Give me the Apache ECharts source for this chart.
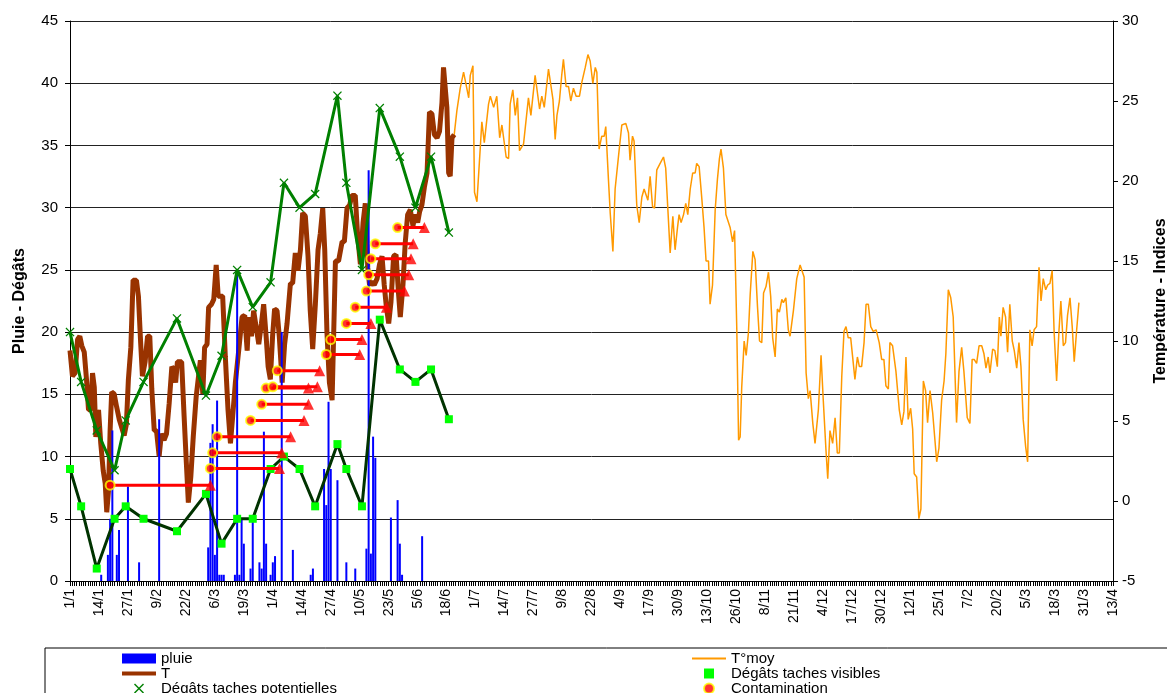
<!DOCTYPE html>
<html><head><meta charset="utf-8">
<script src="https://cdn.jsdelivr.net/npm/echarts@6/dist/echarts.min.js"></script>
<style>html,body{margin:0;padding:0;background:#fff}#c{width:1167px;height:693px}</style>
</head><body><div id="c"></div>
<script>
// ---- tick labels (one every 13 days, day 0 = 1/1) ----
const dateLabels = ['1/1','14/1','27/1','9/2','22/2','6/3','19/3','1/4','14/4','27/4','10/5','23/5','5/6','18/6','1/7','14/7','27/7','9/8','22/8','4/9','17/9','30/9','13/10','26/10','8/11','21/11','4/12','17/12','30/12','12/1','25/1','7/2','20/2','5/3','18/3','31/3','13/4'];

// ---- pluie (mm, left axis) ----
const rainDays = [14,17,18,19,21,22,26,31,40,62,63,64,65,66,67,68,69,74,75,76,77,78,81,82,85,86,87,88,90,91,92,95,100,108,109,114,115,116,117,120,124,128,133,134,135,136,137,144,147,148,149,158];
const rainValues = [0.5,2.1,5.0,12.1,2.1,4.1,7.6,1.5,13.0,2.7,11.1,12.6,2.1,14.5,0.5,0.5,0.5,0.5,25.0,0.5,5.0,3.0,1.0,5.0,1.5,1.0,12.0,3.0,0.5,1.5,2.0,20.0,2.5,0.5,1.0,9.0,6.1,14.4,9.0,8.1,1.5,1.0,2.6,33.0,2.2,11.6,9.9,5.1,6.5,3.0,0.5,3.6];

// ---- T (°C, right axis) ----
const tDays = [0,1.1,2.3,3.4,4.4,5.3,6.4,7.4,8.3,9.3,10.1,10.9,11.6,12.8,13.8,14.9,15.8,16.5,17.3,18.0,18.7,19.8,20.9,22.1,23.2,24.3,25.3,26.2,27.3,28.3,29.8,30.7,31.7,32.5,33.7,34.8,35.8,36.7,37.8,38.8,40.0,41.0,42.2,43.3,44.5,45.7,46.7,47.4,48.2,49.2,50.1,51.2,52.2,53.1,54.2,55.3,56.6,58.5,59.6,60.4,61.5,62.2,63.5,64.5,65.6,66.5,67.5,68.5,69.7,70.9,72.0,73.0,74.2,75.7,77.2,78.4,79.5,80.2,81.4,82.4,83.5,84.7,85.9,86.9,88.0,88.9,89.9,90.9,91.8,92.9,93.9,95.2,96.3,97.4,98.9,99.9,101.1,102.3,103.4,104.4,105.6,106.8,107.8,108.9,110.1,111.3,112.3,113.4,114.3,115.3,116.4,117.6,119.1,120.5,122.1,123.1,124.3,125.5,126.5,128.0,129.1,130.3,131.5,132.5,133.6,134.4,135.5,136.5,137.8,138.9,140.0,141.0,141.9,143.0,144.0,145.2,146.3,147.4,148.2,149.4,150.4,151.5,152.7,153.9,154.9,156.0,156.9,157.9,159.0,160.2,161.3,162.4,163.5,164.7,165.8,166.9,167.6,168.4,169.1,169.9,170.6,171.4,172.4];
const tValues = [9.4,7.8,8.0,10.1,10.3,9.7,9.3,7.6,5.7,5.7,8.0,7.1,4.0,5.7,3.6,1.9,1.1,-0.7,0.7,4.4,6.8,6.7,5.9,5.1,4.6,4.1,4.8,7.6,9.6,13.8,13.8,12.8,9.9,7.8,8.7,10.3,10.3,7.0,4.4,4.4,2.8,4.2,3.8,4.2,6.1,8.4,8.2,7.4,8.7,8.7,8.7,5.3,2.4,-0.1,1.5,4.0,6.5,8.8,6.7,9.6,9.8,12.1,12.3,12.6,14.75,12.8,12.8,12.8,9.0,5.7,3.6,5.3,7.4,9.4,11.5,11.6,9.4,11.5,10.3,11.9,10.9,9.8,11.1,12.3,10.3,8.4,7.6,10.3,12.0,11.9,10.3,7.4,9.8,11.1,13.6,13.6,15.5,14.4,15.7,18.0,17.8,15.3,11.9,9.5,12.3,15.7,16.7,18.3,15.7,10.5,7.4,6.3,15.0,15.0,16.2,16.2,18.3,18.5,19.1,19.1,16.5,14.8,17.4,18.6,14.6,13.5,13.7,13.5,13.9,14.8,15.3,13.5,12.2,11.1,12.4,15.3,15.4,13.0,11.5,13.5,16.1,17.9,18.2,17.2,17.9,17.4,18.1,18.5,19.6,20.5,24.3,24.2,22.9,22.7,23.1,24.9,27.1,27.1,24.6,20.5,20.3,22.7,22.9];

// ---- T°moy after the end of T (°C, right axis); before that it follows T ----
const tmoyDays = [173.6,175.1,176.6,177.4,178.9,179.6,180.8,181.5,182.6,184.1,184.8,185.9,187.8,188.6,190.1,191.5,192.8,193.8,194.5,195.7,196.8,197.5,198.7,199.8,200.8,201.7,203.5,205.7,206.8,208.7,210.7,211.7,212.8,214.7,216.7,217.7,218.5,219.6,220.7,221.4,222.6,223.7,224.7,225.9,227.1,228.6,229.7,231.2,232.4,233.4,234.6,235.7,236.4,237.4,238.6,239.7,240.4,241.6,242.4,243.6,244.6,245.4,246.6,247.6,249.4,250.6,251.3,252.4,253.1,254.3,255.4,256.6,257.6,258.4,259.3,260.3,261.4,262.3,263.3,264.8,266.3,267.3,268.2,269.3,270.5,271.5,272.6,273.3,274.2,275.3,276.3,277.2,278.3,279.4,280.5,281.2,282.3,283.5,284.5,285.4,286.5,287.2,288.3,289.5,290.5,291.4,292.1,293.2,294.3,295.1,296.2,297.3,298.2,299.2,300.0,300.7,301.4,302.5,303.4,304.4,305.2,306.4,307.4,308.5,309.4,310.4,311.2,312.3,313.4,314.4,315.3,316.4,317.4,318.3,319.4,320.1,321.2,322.3,323.1,324.6,326.1,327.6,328.3,329.4,330.3,331.3,332.1,333.3,334.3,335.8,337.0,338.0,339.2,340.0,341.0,342.2,343.3,344.3,345.2,346.3,347.3,348.2,349.2,350.3,352.2,353.3,354.2,355.2,356.3,357.2,358.2,359.3,360.4,361.7,362.2,363.1,364.2,365.2,366.1,367.2,367.9,369.1,370.6,372.1,373.2,374.2,375.1,376.1,377.2,378.1,378.8,379.9,380.9,381.8,382.9,383.9,384.8,385.9,387.1,388.9,389.9,391.1,392.2,393.0,394.1,395.2,396.3,397.8,398.9,400.1,401.1,402.6,403.8,404.8,405.7,406.8,407.9,409.1,410.1,411.0,412.0,412.8,414.0,415.0,416.1,417.0,417.7,418.7,419.8,420.7,421.7,422.8,423.7,424.8,425.8,426.7,427.7,428.8,429.7,430.7,431.7,432.6,433.7,434.8,435.7,436.7,437.8,438.7,439.7,440.7,441.6,442.7,443.7,444.6,445.7,446.7,447.6,448.7,449.7,450.6,451.7,452.7];
const tmoyValues = [24.4,25.8,26.8,26.7,25.2,26.6,27.2,19.3,18.7,22.1,23.7,22.4,24.8,25.3,24.6,25.3,22.7,23.5,23.5,21.5,21.4,24.8,25.7,24.1,25.2,21.9,22.3,25.2,24.1,26.6,24.5,25.3,24.6,27.0,25.1,22.6,24.1,25.0,26.7,27.6,25.9,25.9,25.0,25.8,25.3,25.3,26.2,27.1,27.9,27.5,26.1,27.1,26.8,22.0,22.8,22.8,23.4,20.1,18.0,15.6,19.5,19.5,22.2,23.5,23.6,23.0,21.3,22.8,22.5,18.5,17.4,19.0,19.5,19.5,18.8,20.3,18.4,18.3,20.7,21.1,21.5,20.8,18.4,15.5,17.8,15.7,17.1,17.9,17.4,17.9,18.6,17.9,19.5,20.5,20.5,21.1,20.9,18.9,17.1,15.0,15.0,12.3,13.5,18.2,20.1,21.4,22.0,20.8,17.9,17.9,17.1,16.2,16.9,10.7,3.8,4.0,7.1,10.0,9.1,10.5,12.9,15.6,15.1,12.1,10.0,9.9,13.0,13.4,14.3,12.8,10.2,9.0,12.0,11.8,12.6,12.4,12.7,10.7,10.3,11.9,13.9,14.75,14.8,14.0,8.0,6.4,6.9,4.85,3.6,5.7,9.1,6.3,3.2,1.4,4.4,3.6,5.2,3.0,3.0,7.8,10.6,10.9,10.2,10.2,7.6,9.0,8.4,8.4,9.9,12.3,12.3,10.9,10.6,10.7,10.8,9.9,8.85,8.85,7.2,7.0,9.9,9.7,8.1,5.7,4.75,5.6,9.0,5.1,5.8,4.5,1.7,1.5,-1.1,-0.5,7.5,6.9,4.9,6.9,5.5,2.45,3.3,6.3,7.5,9.2,13.2,12.7,11.5,4.9,8.1,9.6,8.1,5.2,4.85,8.85,8.85,8.6,9.7,9.7,9.2,8.3,9.0,8.0,9.5,9.4,8.4,11.5,10.3,12.1,11.5,9.3,12.3,10.0,9.4,8.3,9.9,8.4,5.1,3.4,2.45,10.7,9.7,10.7,10.9,14.6,12.5,13.9,13.2,13.5,13.6,14.4,10.5,7.5,10.5,12.5,9.7,9.9,11.6,12.7,10.9,8.7,10.7,12.4];

// ---- Dégâts (left axis), observation dates ----
const obsDays = [0,5,12,20,25,33,48,61,68,75,82,90,96,103,110,120,124,131,139,148,155,162,170];
const potValues = [20,16,12.1,8.9,12.9,16,21.1,14.9,18.1,25,22,24,32,30,31.1,39,32,25,38,34.1,30,34.1,28];
const visValues = [9,6,1,5,6,5,4,7,3,5,5,9,10,9,6,11,9,6,21,17,16,17,13];

// ---- Contamination periods (start day, end day, row level on left axis) ----
const contStart = [18,63,64,66,81,86,88,91,93,115,117,124,128,133,134,135,137,147];
const contEnd   = [63,94,95,99,105,107,107,111,112,130,131,135,142,150,152,153,154,159];
const contLevel = [7.7,9.05,10.3,11.6,12.9,14.2,15.5,15.6,16.9,18.2,19.4,20.7,22.0,23.3,24.6,25.9,27.1,28.4];

const FONT = '"Liberation Sans", Arial, sans-serif';
const pair = (xs, ys) => xs.map((x, i) => [x, ys[i]]);
const X_PATH = 'path://M0,1L1,0L5,4L9,0L10,1L6,5L10,9L9,10L5,6L1,10L0,9L4,5Z';
const SQ_PATH = 'path://M0,0L10,0L10,10L0,10Z';
const CIRC_PATH = 'path://M5,0A5,5,0,1,1,5,10A5,5,0,1,1,5,0Z';
const THICK_LINE = 'path://M0,0L34,0L34,4L0,4Z';
const THIN_LINE = 'path://M0,0L34,0L34,2L0,2Z';

const segData = [];
contStart.forEach((s, i) => { segData.push([s, contLevel[i]], [contEnd[i], contLevel[i]], [contEnd[i], '-']); });

const legendCommon = {
  top: 651, orient: 'vertical', itemWidth: 34, itemHeight: 10, itemGap: 0, padding: 0, height: 60,
  textStyle: { fontSize: 15, lineHeight: 13.5, color: '#000', fontFamily: FONT }
};

const chart = echarts.init(document.getElementById('c'));
chart.setOption({
  animation: false,
  textStyle: { fontFamily: FONT },
  grid: { left: 70, right: 54, top: 21, bottom: 112, outerBoundsMode: 'none', containLabel: false },
  graphic: [{ type: 'rect', shape: { x: 45, y: 648, width: 1140, height: 60 }, style: { fill: 'none', stroke: '#000', lineWidth: 1 }, z: 0 }],
  legend: [
    Object.assign({ left: 122, data: [{ name: 'pluie', icon: 'rect' }, { name: 'T', icon: THICK_LINE }, { name: 'Dégâts taches potentielles', icon: X_PATH }] }, legendCommon),
    Object.assign({ left: 692, data: [{ name: 'T°moy', icon: THIN_LINE }, { name: 'Dégâts taches visibles', icon: SQ_PATH }, { name: 'Contamination', icon: CIRC_PATH }] }, legendCommon)
  ],
  xAxis: {
    type: 'value', min: 0, max: 468, interval: 13,
    axisLine: { onZero: false, lineStyle: { color: '#000' } },
    axisTick: { show: true, length: 5, lineStyle: { color: '#000' } },
    minorTick: { show: true, splitNumber: 13, length: 5, lineStyle: { color: '#000' } },
    splitLine: { show: false }, minorSplitLine: { show: false },
    axisLabel: { rotate: 90, margin: 8, fontSize: 14, color: '#000', fontFamily: FONT,
      formatter: v => dateLabels[Math.round(v / 13)] || '' }
  },
  yAxis: [
    { type: 'value', min: 0, max: 45, interval: 5, position: 'left',
      name: 'Pluie - Dégâts', nameLocation: 'middle', nameGap: 42, nameRotate: 90,
      nameTextStyle: { fontWeight: 'bold', fontSize: 16, color: '#000', fontFamily: FONT },
      axisLine: { show: true, lineStyle: { color: '#000' } },
      axisTick: { show: true, length: 5, lineStyle: { color: '#000' } },
      axisLabel: { fontSize: 15, color: '#000', margin: 12, fontFamily: FONT },
      splitLine: { show: true, lineStyle: { color: '#222', width: 1 } } },
    { type: 'value', min: -5, max: 30, interval: 5, position: 'right',
      name: 'Température - Indices', nameLocation: 'middle', nameGap: 40, nameRotate: 90,
      nameTextStyle: { fontWeight: 'bold', fontSize: 16, color: '#000', fontFamily: FONT },
      axisLine: { show: true, lineStyle: { color: '#000' } },
      axisTick: { show: true, length: 5, lineStyle: { color: '#000' } },
      axisLabel: { fontSize: 15, color: '#000', margin: 9, fontFamily: FONT },
      splitLine: { show: false } }
  ],
  series: [
    { name: 'T°moy', type: 'line', yAxisIndex: 1, z: 2, symbol: 'none',
      data: pair(tDays, tValues).concat(pair(tmoyDays, tmoyValues)),
      lineStyle: { color: '#FF9900', width: 1.5 }, itemStyle: { color: '#FF9900' } },
    { name: 'T', type: 'line', yAxisIndex: 1, z: 3, symbol: 'none',
      data: pair(tDays, tValues),
      lineStyle: { color: '#993300', width: 5 }, itemStyle: { color: '#993300' } },
    { name: 'pluie', type: 'bar', yAxisIndex: 0, z: 4, barWidth: 2,
      data: pair(rainDays, rainValues), itemStyle: { color: '#0000FF' } },
    { name: 'Dégâts taches visibles', type: 'line', yAxisIndex: 0, z: 5,
      data: pair(obsDays, visValues), symbol: SQ_PATH, symbolSize: 8, showSymbol: true,
      lineStyle: { color: '#003300', width: 3 }, itemStyle: { color: '#00FF00' } },
    { name: 'Dégâts taches potentielles', type: 'line', yAxisIndex: 0, z: 6,
      data: pair(obsDays, potValues), symbol: X_PATH, symbolSize: 9, showSymbol: true,
      lineStyle: { color: '#008000', width: 3 }, itemStyle: { color: '#008000' } },
    { name: 'contSeg', type: 'line', yAxisIndex: 0, z: 7, symbol: 'none', connectNulls: false,
      data: segData, lineStyle: { color: '#FF0000', width: 3 }, itemStyle: { color: '#FF0000' } },
    { name: 'contFin', type: 'scatter', yAxisIndex: 0, z: 8, symbol: 'triangle', symbolSize: 11,
      data: pair(contEnd, contLevel), itemStyle: { color: '#FF0000' } },
    { name: 'Contamination', type: 'scatter', yAxisIndex: 0, z: 9, symbol: 'circle', symbolSize: 9,
      data: pair(contStart, contLevel), itemStyle: { color: '#FF0000', borderColor: '#FFFF00', borderWidth: 2 } }
  ]
});
</script></body></html>
